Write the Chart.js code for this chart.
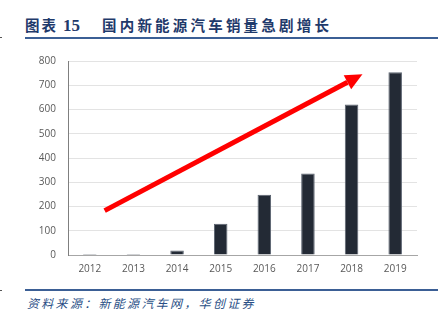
<!DOCTYPE html>
<html>
<head>
<meta charset="utf-8">
<script src="https://cdn.jsdelivr.net/npm/chart.js@4"></script>
<style>
  body { margin: 0; background: #fff; width: 439px; height: 322px; overflow: hidden; position: relative; }
  #title { position: absolute; left: 25px; top: 14px; color: #1f3a6b; font-weight: bold; font-size: 14.5px; white-space: nowrap; z-index: 2; }
  #title .num { font-family: "Liberation Serif", "DejaVu Serif", serif; font-size: 17px; margin-left: 5px; }
  #title .txt { font-family: "Noto Sans CJK SC", sans-serif; letter-spacing: 3.2px; position: absolute; left: 77px; top: 0; }
  #title .lbl { font-family: "Noto Sans CJK SC", sans-serif; letter-spacing: 2px; }
  .rule { position: absolute; left: 25px; width: 413px; height: 2px; background: #3b5f95; z-index: 2; }
  .dash { position: absolute; left: 0; width: 2px; height: 1px; background: #555; }
  #source { position: absolute; left: 27px; top: 294px; color: #2a4f86; font-family: "Noto Sans CJK SC", sans-serif; font-style: italic; font-size: 12px; letter-spacing: 2.3px; white-space: nowrap; }
  #wrap { position: absolute; left: 0; top: 43px; width: 430px; height: 237px; }
</style>
</head>
<body>
<div id="wrap"><canvas id="canvasSales"></canvas></div>
<div id="title"><span class="lbl">图表</span><span class="num">15</span><span class="txt">国内新能源汽车销量急剧增长</span></div>
<div class="dash" style="top:37px"></div>
<div class="rule" style="top:37px"></div>
<div class="dash" style="top:290px"></div>
<div class="rule" style="top:289px"></div>
<div id="source">资料来源：新能源汽车网，华创证券</div>

<script>
const years = ['2012', '2013', '2014', '2015', '2016', '2017', '2018', '2019'];
const sales = [4, 4, 19, 129, 248, 336, 621, 754];
const yTicks = [0, 100, 200, 300, 400, 500, 600, 700, 800];

// trend arrow, given in category index / value units
const trendFrom = [0.34, 183];
const trendTo = [6.25, 745];

const arrowPlugin = {
    id: 'trendArrow',
    afterDatasetsDraw(chart) {
        const ctx = chart.ctx;
        const x = chart.scales.x, y = chart.scales.y;
        const x0 = x.getPixelForValue(trendFrom[0]), y0 = y.getPixelForValue(trendFrom[1]);
        const x1 = x.getPixelForValue(trendTo[0]), y1 = y.getPixelForValue(trendTo[1]);
        const ang = Math.atan2(y1 - y0, x1 - x0);
        const headLen = 17, headW = 8;
        const bx = x1 - headLen * Math.cos(ang), by = y1 - headLen * Math.sin(ang);
        ctx.save();
        ctx.strokeStyle = '#ff0000';
        ctx.fillStyle = '#ff0000';
        ctx.lineWidth = 5;
        ctx.beginPath();
        ctx.moveTo(x0, y0);
        ctx.lineTo(bx, by);
        ctx.stroke();
        ctx.beginPath();
        ctx.moveTo(x1, y1);
        ctx.lineTo(bx + headW * Math.sin(ang), by - headW * Math.cos(ang));
        ctx.lineTo(bx - headW * Math.sin(ang), by + headW * Math.cos(ang));
        ctx.closePath();
        ctx.fill();
        ctx.restore();
    }
};

new Chart(document.getElementById('canvasSales').getContext('2d'), {
    type: 'bar',
    data: {
        labels: years,
        datasets: [{
            data: sales,
            backgroundColor: '#232a35',
            borderColor: '#5b6370',
            borderWidth: 1,
            barPercentage: 0.62,
            categoryPercentage: 0.5
        }]
    },
    options: {
        responsive: true,
        maintainAspectRatio: false,
        animation: false,
        layout: { padding: { top: 1.5, right: 13 } },
        plugins: { legend: { display: false }, tooltip: { enabled: false } },
        scales: {
            x: {
                grid: { display: false, drawTicks: false },
                border: { color: '#a6a6a6', width: 1 },
                ticks: { color: '#595959', font: { family: 'Open Sans', size: 10 }, padding: 8 },
                afterFit(scale) { scale.height = 25; }
            },
            y: {
                min: 0,
                max: 800,
                afterBuildTicks(scale) { scale.ticks = yTicks.map(v => ({ value: v })); },
                grid: { color: '#e3e3e3', drawTicks: false },
                border: { color: '#7f7f7f', width: 1 },
                ticks: { color: '#595959', font: { family: 'Open Sans', size: 10 }, padding: 12 },
                afterFit(scale) { scale.width = 68; }
            }
        }
    },
    plugins: [arrowPlugin]
});
</script>
</body>
</html>
